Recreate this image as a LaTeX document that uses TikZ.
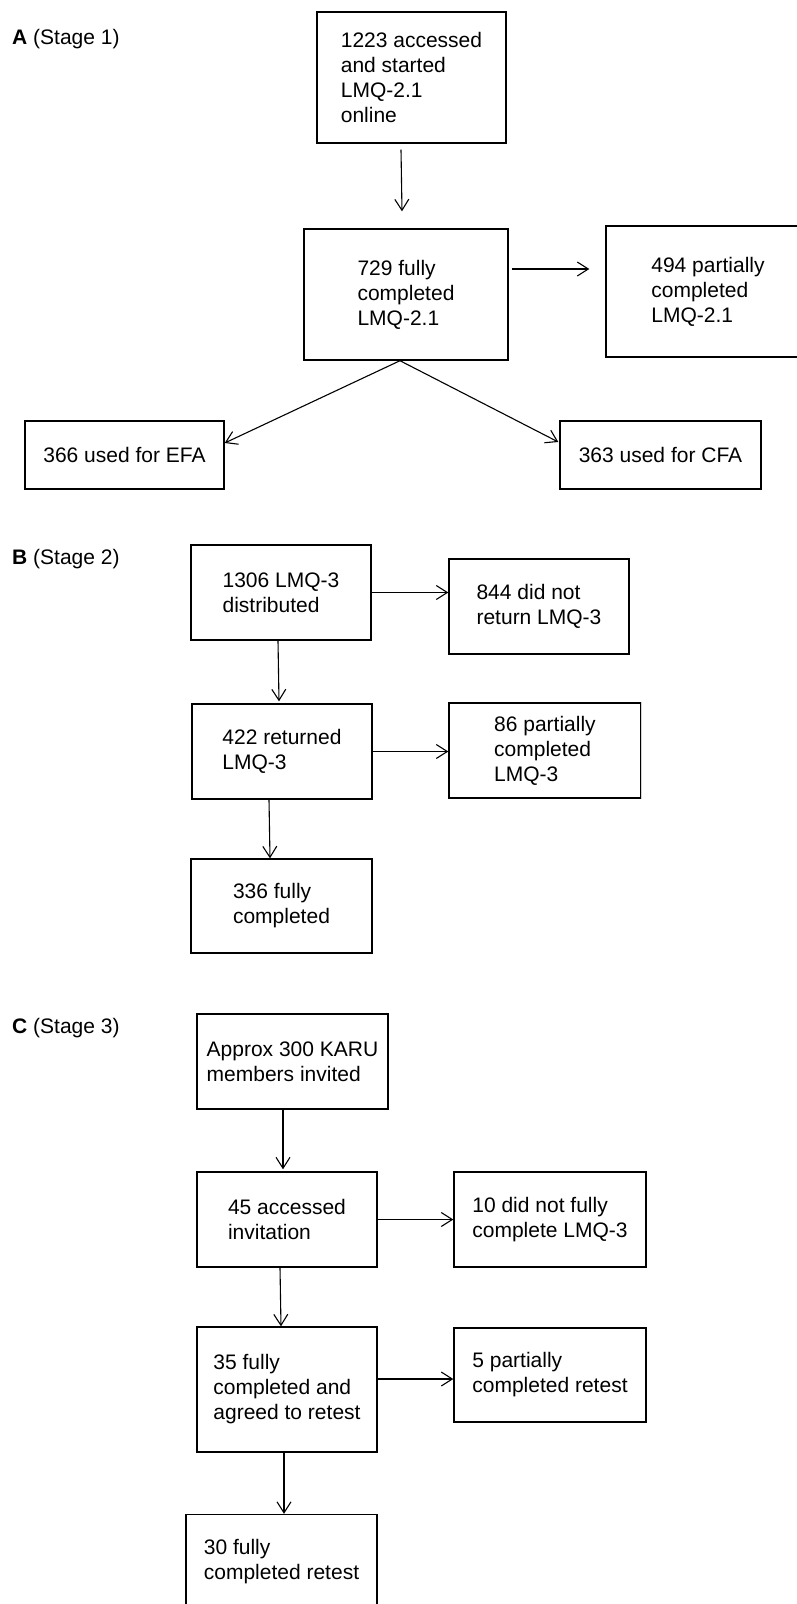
\documentclass[tikz,border=0pt]{standalone}
\usepackage{fontspec}
\setmainfont{Liberation Sans}
\usetikzlibrary{arrows.meta}

\begin{document}
\begin{tikzpicture}[x=1pt,y=-1pt]

      \useasboundingbox (0,0) rectangle (796,1604);

      \begin{scope}[every node/.style={font=\fontsize{21}{25}\selectfont,inner sep=0pt}]
        \node[anchor=west] (labA) at (12,39)   {\textbf{A} (Stage 1)};
        \node[anchor=west] (labB) at (12,559)  {\textbf{B} (Stage 2)};
        \node[anchor=west] (labC) at (12,1028) {\textbf{C} (Stage 3)};
      \end{scope}

      \begin{scope}[every node/.style={draw,line width=1.4pt,align=left,inner sep=0pt,
          font=\fontsize{21}{25}\selectfont}]
        % stage 1
        \node[minimum width=189,minimum height=131] (a1) at (411.5,77.5) {1223 accessed\\and started\\LMQ-2.1\\online};
        \node[minimum width=204,minimum height=131] (a2) at (406,294.5)  {729 fully\\completed\\LMQ-2.1};
        \node[minimum width=204,minimum height=131] (a3) at (708,291.5)  {494 partially\\completed\\LMQ-2.1};
        \node[minimum width=199,minimum height=68]  (a4) at (124.5,455)  {366 used for EFA};
        \node[minimum width=201,minimum height=68]  (a5) at (660.5,455)  {363 used for CFA};
        % stage 2
        \node[minimum width=180,minimum height=95] (b1) at (281,592.5)   {1306 LMQ-3\\distributed};
        \node[minimum width=180,minimum height=95] (b2) at (539,606.5)   {844 did not\\return LMQ-3};
        \node[minimum width=180,minimum height=95] (b3) at (282,751.5)   {422 returned\\LMQ-3};
        \node[minimum width=192,minimum height=95] (b4) at (545,750.5)   {86 partially\\completed\\LMQ-3};
        \node[minimum width=181,minimum height=94] (b5) at (281.5,906)   {336 fully\\completed};
        % stage 3
        \node[minimum width=191,minimum height=95]  (c1) at (292.5,1061.5) {Approx 300 KARU\\members invited};
        \node[minimum width=180,minimum height=95]  (c2) at (287,1219.5)   {45 accessed\\invitation};
        \node[minimum width=192,minimum height=95]  (c3) at (550,1219.5)   {10 did not fully\\complete LMQ-3};
        \node[minimum width=180,minimum height=125] (c4) at (287,1389.5)   {35 fully\\completed and\\agreed to retest};
        \node[minimum width=192,minimum height=94]  (c5) at (550,1375)     {5 partially\\completed retest};
        \node[minimum width=191,minimum height=95]  (c6) at (281.5,1562)   {30 fully\\completed retest};
      \end{scope}

      % faint right side of the 86 box
      \draw[gray!35,line width=1.4pt] (b4.north east) -- (b4.south east);

      \begin{scope}[every edge/.style={draw,line width=1.1pt,
          -{Straight Barb[length=11pt,width=14pt]}}]
        \path ([xshift=-10.5pt,yshift=-6pt]a1.south) edge ([xshift=-4pt,yshift=17pt]a2.north);
        \path ([xshift=3pt,yshift=25.5pt]a2.east) edge ([xshift=-16pt,yshift=22.5pt]a3.west);
        \path ([xshift=-6pt]a2.south) edge ([yshift=12pt]a4.east);
        \path ([xshift=-6pt]a2.south) edge ([xshift=-1pt,yshift=13pt]a5.west);

        \path (b1.east) edge (b1.east -| b2.west);
        \path ([xshift=-3pt]b1.south) edge ([xshift=-3pt,yshift=2pt]b3.north);
        \path (b3.east) edge (b3.east -| b4.west);
        \path ([xshift=-13pt]b3.south) edge ([xshift=-11.5pt]b5.north);

        \path ([xshift=-9.5pt]c1.south) edge ([xshift=-4pt,yshift=2pt]c2.north);
        \path (c2.east) edge (c2.east -| c3.west);
        \path ([xshift=-7pt]c2.south) edge ([xshift=-6pt]c4.north);
        \path ([yshift=10.5pt]c4.east) edge ([yshift=10.5pt]c4.east -| c5.west);
        \path ([xshift=-3pt]c4.south) edge ([xshift=2.5pt]c6.north);
      \end{scope}

    \end{tikzpicture}
\end{document}
